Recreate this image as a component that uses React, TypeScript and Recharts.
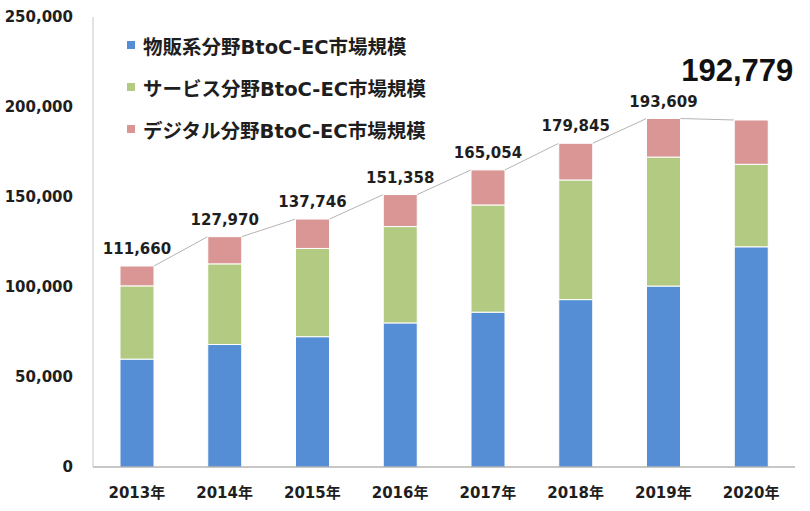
import React from 'react';
import { BarChart, Bar, XAxis, YAxis, Legend, LabelList } from 'recharts';

const years = ['2013年', '2014年', '2015年', '2016年', '2017年', '2018年', '2019年', '2020年'];
const goods = [59931, 68043, 72398, 80043, 86008, 92992, 100515, 122333];
const services = [40700, 44816, 49014, 53532, 59568, 66471, 71672, 45832];
const digital = [11029, 15111, 16334, 17782, 19478, 20382, 21422, 24614];
const totals = [111660, 127970, 137746, 151358, 165054, 179845, 193609, 192779];
const yTicks = [0, 50000, 100000, 150000, 200000, 250000];
const seriesNames = ['物販系分野BtoC-EC市場規模', 'サービス分野BtoC-EC市場規模', 'デジタル分野BtoC-EC市場規模'];

const data = years.map((year, i) => ({
  year,
  goods: goods[i],
  services: services[i],
  digital: digital[i],
  total: totals[i],
}));

const W = 810;
const H = 511;
const M = { top: 17, right: 15, bottom: 14, left: 0 };
const Y_AXIS_W = 93;
const BAND = (W - M.left - M.right - Y_AXIS_W) / years.length;

const FONT = "'DejaVu Sans', 'Noto Sans CJK JP', sans-serif";
const TEXT = '#1e1e1e';

// top segment + Excel-style series line to the next bar's top
const DigitalShape = (props: any) => {
  const { x, y, width, height, index, fill } = props;
  let line = null;
  if (index < years.length - 1 && digital[index] > 0) {
    const pxPerUnit = height / digital[index];
    const cur = goods[index] + services[index] + digital[index];
    const next = goods[index + 1] + services[index + 1] + digital[index + 1];
    const yNext = y - (next - cur) * pxPerUnit;
    line = <line x1={x + width} y1={y} x2={x + BAND} y2={yNext} stroke="#b4b4b4" strokeWidth={1} />;
  }
  return (
    <g>
      <rect x={x} y={y} width={width} height={height} fill={fill} stroke="#fff" strokeWidth={1} />
      {line}
    </g>
  );
};

const TotalLabel = (props: any) => {
  const { x, y, width, index } = props;
  const text = totals[index].toLocaleString('en-US');
  if (index === years.length - 1) {
    return (
      <text x={x + width / 2 - 14} y={y - 39} textAnchor="middle" fontFamily="'Liberation Sans', Arial, sans-serif"
        fontWeight="bold" fontSize={31} fill="#111">
        {text}
      </text>
    );
  }
  return (
    <text x={x + width / 2} y={y - 12} textAnchor="middle" fontFamily={FONT} fontWeight="bold" fontSize={15} fill={TEXT}>
      {text}
    </text>
  );
};

const LegendBox = (props: any) => {
  const items = [...(props.payload || [])].sort(
    (a: any, b: any) => seriesNames.indexOf(a.value) - seriesNames.indexOf(b.value)
  );
  return (
    <div style={{ fontFamily: FONT, fontWeight: 'bold', fontSize: 19.5, color: TEXT }}>
      {items.map((p: any) => (
        <div key={p.value} style={{ display: 'flex', alignItems: 'center', height: 42 }}>
          <span style={{ display: 'inline-block', width: 8, height: 8, background: p.color, marginRight: 8 }} />
          <span>{p.value}</span>
        </div>
      ))}
    </div>
  );
};

export default function App() {
  return (
    <div style={{ width: W, height: H, background: '#fff' }}>
      <style>{'body{margin:0}'}</style>
      <BarChart width={W} height={H} data={data} margin={M} barSize={34}>
        <XAxis dataKey="year" tickLine={false} tickSize={0} tickMargin={20} height={30} interval={0}
          axisLine={{ stroke: '#8e8e8e' }}
          tick={{ fontFamily: FONT, fontWeight: 'bold', fontSize: 15, fill: TEXT }} />
        <XAxis xAxisId="top" orientation="top" dataKey="year" tick={false} tickLine={false} height={0}
          axisLine={{ stroke: '#c6c6c6' }} />
        <YAxis domain={[0, 250000]} ticks={yTicks} width={Y_AXIS_W} tickLine={false} tickSize={0} tickMargin={20}
          axisLine={{ stroke: '#c6c6c6' }} interval={0}
          tickFormatter={(v: number) => v.toLocaleString('en-US')}
          tick={{ fontFamily: FONT, fontWeight: 'bold', fontSize: 15, fill: TEXT }} />
        <YAxis yAxisId="right" orientation="right" width={0} tick={false} tickLine={false}
          axisLine={{ stroke: '#c6c6c6' }} />
        <Legend layout="horizontal" align="center" verticalAlign="middle" content={<LegendBox />}
          wrapperStyle={{ top: 24, left: 127, width: 330, height: 126 }} />
        <Bar dataKey="goods" name={seriesNames[0]} stackId="a" fill="#558ed5" stroke="#fff" strokeWidth={1}
          isAnimationActive={false} />
        <Bar dataKey="services" name={seriesNames[1]} stackId="a" fill="#b3ca83" stroke="#fff" strokeWidth={1}
          isAnimationActive={false} />
        <Bar dataKey="digital" name={seriesNames[2]} stackId="a" fill="#d99694" shape={<DigitalShape />}
          isAnimationActive={false}>
          <LabelList dataKey="total" content={<TotalLabel />} />
        </Bar>
      </BarChart>
    </div>
  );
}
